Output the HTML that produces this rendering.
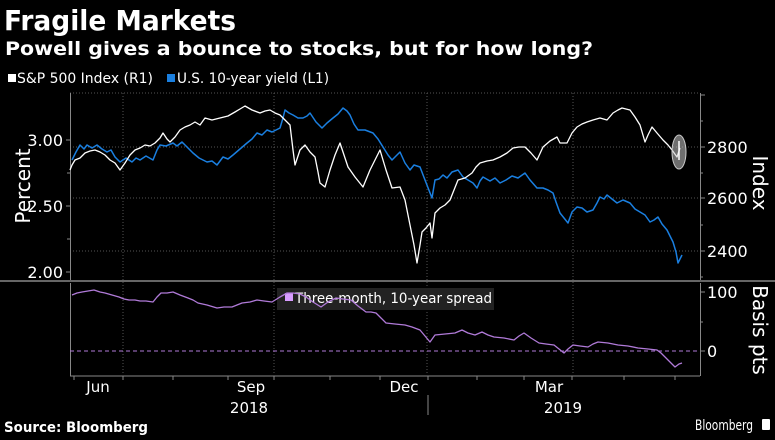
<!DOCTYPE html>
<html><head><meta charset="utf-8"><style>
body{margin:0;background:#000;width:775px;height:435px;overflow:hidden;font-family:"Liberation Sans",sans-serif;color:#fff}
</style></head><body>
<svg width="775" height="435" viewBox="0 0 775 435" xmlns="http://www.w3.org/2000/svg" font-family="DejaVu Sans, Liberation Sans, sans-serif">
<rect width="775" height="435" fill="#000"/>
<text x="4" y="30" font-size="28" font-weight="bold" fill="#fff" textLength="232" lengthAdjust="spacingAndGlyphs">Fragile Markets</text>
<text x="5" y="55" font-size="19" font-weight="bold" fill="#fff" textLength="588" lengthAdjust="spacingAndGlyphs">Powell gives a bounce to stocks, but for how long?</text>
<rect x="8" y="74" width="8" height="8" fill="#fff"/>
<text x="17" y="83" font-size="14" fill="#fff" textLength="136" lengthAdjust="spacingAndGlyphs">S&amp;P 500 Index  (R1)</text>
<rect x="167" y="74" width="8" height="8" fill="#1a7fe0"/>
<text x="177" y="83" font-size="14" fill="#fff" textLength="152" lengthAdjust="spacingAndGlyphs">U.S. 10-year yield (L1)</text>
<g stroke="#555" stroke-width="1" stroke-dasharray="1,2" fill="none">
<line x1="70" y1="93" x2="700" y2="93"/><line x1="70" y1="147" x2="700" y2="147"/>
<line x1="70" y1="198" x2="700" y2="198"/><line x1="70" y1="251" x2="700" y2="251"/>
<line x1="123" y1="93" x2="123" y2="375"/><line x1="274" y1="93" x2="274" y2="375"/>
<line x1="427" y1="93" x2="427" y2="375"/><line x1="573" y1="93" x2="573" y2="375"/>
</g>
<g stroke="#888" stroke-width="1" fill="none">
<line x1="70.5" y1="93" x2="70.5" y2="280"/><line x1="700.5" y1="93" x2="700.5" y2="280"/>
<line x1="700.5" y1="283" x2="700.5" y2="376"/><line x1="70.5" y1="283" x2="70.5" y2="376"/>
<line x1="70" y1="376" x2="700" y2="376"/>
<path d="M66 140h4M67 173h3M66 206h4M67 239h3M66 272h4"/>
<path d="M700 95h5M700 121h3M700 147h5M700 173h3M700 198h5M700 225h3M700 251h5M700 277h3"/>
<path d="M700 292h5M700 322h3M700 351h5"/>
<path d="M74 376v4M123 376v4M173 376v4M228 376v4M274 376v4M330 376v4M380 376v4M428 376v4M477 376v4M524 376v4M572 376v4M624 376v4M675 376v4"/>
<line x1="428" y1="395" x2="428" y2="415"/>
</g>
<line x1="0" y1="281" x2="775" y2="281" stroke="#666" stroke-width="2"/>
<g font-size="16" fill="#fff">
<text x="63" y="146" text-anchor="end">3.00</text>
<text x="63" y="212" text-anchor="end">2.50</text>
<text x="63" y="278" text-anchor="end">2.00</text>
<text x="707" y="153">2800</text><text x="707" y="204">2600</text><text x="707" y="257">2400</text>
<text x="707" y="298">100</text><text x="707" y="357">0</text>
<text x="30" y="186" font-size="20" text-anchor="middle" transform="rotate(-90 30 186)">Percent</text>
<text x="753" y="183" font-size="20" text-anchor="middle" transform="rotate(90 753 183)">Index</text>
<text x="753" y="330" font-size="20" text-anchor="middle" transform="rotate(90 753 330)">Basis pts</text>
<text x="98" y="392" font-size="15" text-anchor="middle">Jun</text>
<text x="251" y="392" font-size="15" text-anchor="middle">Sep</text>
<text x="404" y="392" font-size="15" text-anchor="middle">Dec</text>
<text x="549" y="392" font-size="15" text-anchor="middle">Mar</text>
<text x="249" y="413" font-size="15" text-anchor="middle">2018</text>
<text x="563" y="413" font-size="15" text-anchor="middle">2019</text>
<text x="4" y="432" font-size="14" font-weight="bold" textLength="144" lengthAdjust="spacingAndGlyphs">Source: Bloomberg</text>
<text x="695" y="430" font-size="14" textLength="58" lengthAdjust="spacingAndGlyphs">Bloomberg</text>
</g>
<rect x="762" y="419" width="8" height="11" rx="1" fill="#fff"/>
<line x1="70" y1="351" x2="700" y2="351" stroke="#b07ad8" stroke-dasharray="4,3" stroke-width="1"/>
<polyline fill="none" stroke="#1a7fe0" stroke-width="1.5" stroke-linejoin="round" points="72,160 76,152 80,145 84,149 87,145 92,148 97,145 102,149 107,152 111,150 115,157 120,162 126,158 132,162 136,158 140,160 146,156 153,160 157,150 160,145 166,146 173,143 177,146 182,142 187,147 193,153 199,158 207,162 212,161 217,165 223,157 228,159 233,155 240,149 247,143 252,139 257,133 262,135 267,130 272,132 280,128 283,118 285,110 289,113 293,115 298,118 303,118 307,116 310,113 316,122 322,128 327,123 333,118 338,114 343,108 347,111 350,115 354,124 358,130 365,130 373,133 378,139 383,147 388,155 392,160 396,156 400,152 405,163 410,170 414,165 420,167 425,180 432,198 435,180 439,179 443,175 447,178 452,172 458,170 463,177 468,180 473,183 477,188 480,181 483,177 490,181 495,178 500,183 506,180 512,176 518,178 525,173 530,180 537,188 543,188 548,190 553,193 556,202 560,213 564,218 568,223 572,212 577,207 582,208 587,212 593,210 597,203 600,197 604,199 607,195 612,199 617,203 623,200 630,203 635,209 640,212 645,215 650,222 654,220 658,217 662,224 667,230 670,236 673,242 676,252 678,263 680,259 682,255"/>
<polyline fill="none" stroke="#fff" stroke-width="1.3" stroke-linejoin="round" points="70,170 72,165 75,160 80,158 85,153 90,151 95,150 100,152 105,155 110,160 115,163 120,170 125,163 130,155 135,150 140,148 145,145 150,146 155,143 160,138 163,133 167,139 170,142 175,137 180,130 185,127 190,125 195,122 200,125 205,118 212,120 220,118 228,116 235,112 240,109 245,106 252,110 260,113 265,111 270,110 275,113 280,115 285,120 290,125 293,150 295,165 300,150 305,145 310,152 315,157 318,172 320,183 325,187 330,170 335,155 340,143 344,155 348,167 355,177 363,187 370,170 375,160 380,150 386,170 392,188 400,187 405,200 410,225 414,245 417,263 420,245 422,232 426,228 430,223 432,238 435,213 440,208 445,205 450,200 454,190 458,180 465,178 472,173 476,167 480,163 487,161 493,160 500,157 507,153 513,148 519,147 525,147 531,153 537,160 543,147 550,141 557,137 560,143 567,143 572,133 577,127 582,124 587,122 593,120 600,118 607,120 613,113 618,110 622,108 626,109 630,110 635,117 640,125 645,142 648,135 652,127 657,133 663,140 668,145 672,150 677,157 680,148"/>
<ellipse cx="679" cy="152" rx="7" ry="17" fill="rgba(200,200,200,0.55)" stroke="#ccc" stroke-width="1"/>
<line x1="679" y1="141" x2="679" y2="160" stroke="#fff" stroke-width="1.5"/>
<rect x="277" y="288" width="217" height="22" fill="#222"/>
<rect x="285" y="293" width="8" height="8" fill="#d79cff"/>
<text x="295" y="303" font-size="14" fill="#fff" textLength="197" lengthAdjust="spacingAndGlyphs">Three-month, 10-year spread</text>
<polyline fill="none" stroke="#b07ad8" stroke-width="1.3" stroke-linejoin="round" points="72,295 77,293 82,292 88,291 94,290 100,292 105,293 112,295 119,297 124,299 129,300 135,300 140,301 146,301 153,302 157,297 161,293 167,293 173,292 180,295 188,298 193,300 198,303 207,305 217,308 224,307 232,307 237,305 242,303 250,302 257,300 264,301 272,302 280,297 287,293 293,293 300,294 306,297 313,302 321,307 328,302 336,298 343,299 351,300 358,306 366,312 371,312 376,313 381,318 386,323 395,324 405,325 412,327 420,330 425,336 430,342 435,335 445,334 455,333 462,330 468,333 475,335 482,332 488,335 494,337 504,338 514,340 519,336 524,333 531,338 539,343 546,344 554,345 559,349 564,353 568,349 573,345 580,346 588,347 593,344 598,342 608,343 618,345 628,346 638,348 648,349 657,350 661,353 665,357 670,362 675,367 679,364 682,363"/>
</svg>
</body></html>
